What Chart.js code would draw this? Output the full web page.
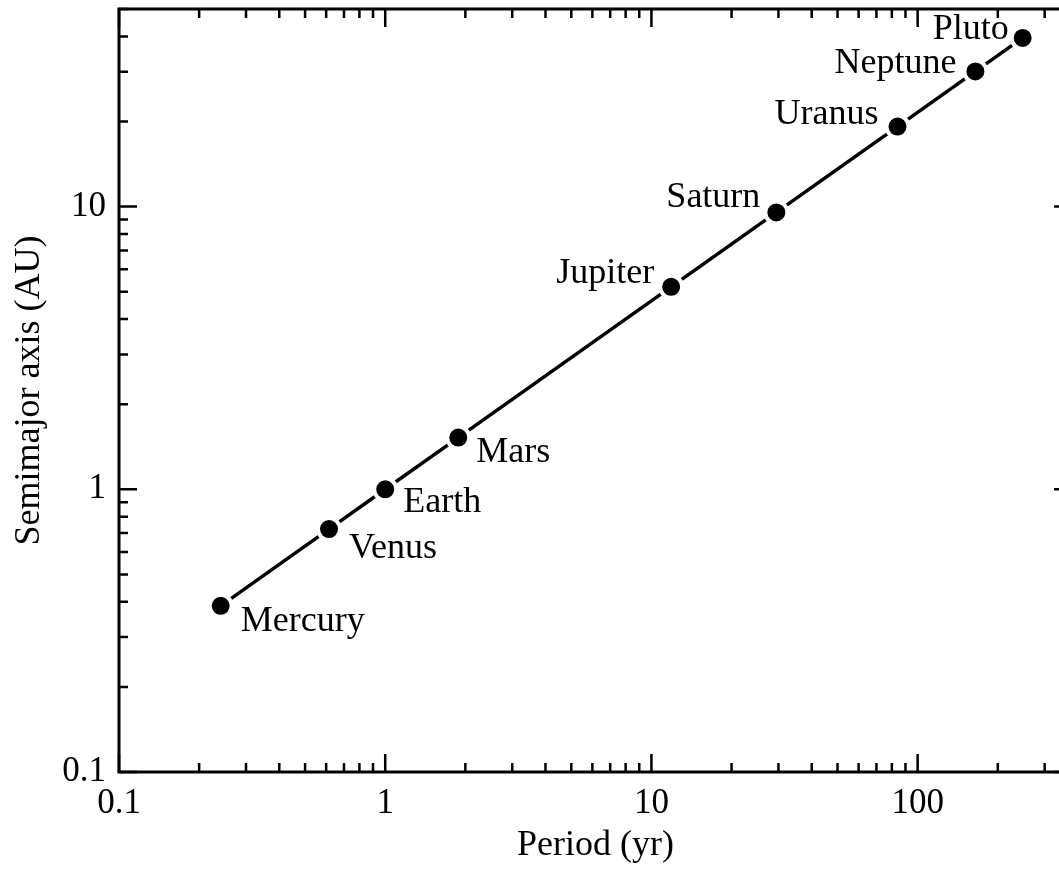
<!DOCTYPE html>
<html>
<head>
<meta charset="utf-8">
<script src="https://cdn.jsdelivr.net/npm/chart.js@4.4.1/dist/chart.umd.min.js"></script>
<style>
  html, body { margin: 0; padding: 0; background: #fff; overflow: hidden; }
  #wrap { width: 1080px; height: 875px; }
</style>
</head>
<body>
<div id="wrap"><canvas id="kepler"></canvas></div>
<script>
// planets, orbital period (yr) and semimajor axis (AU)
const planets = ["Mercury", "Venus", "Earth", "Mars", "Jupiter", "Saturn", "Uranus", "Neptune", "Pluto"];
const period = [0.241, 0.615, 1.0, 1.881, 11.86, 29.46, 84.01, 164.8, 248];
const semimajor = [0.387, 0.723, 1.0, 1.524, 5.203, 9.537, 19.19, 30.07, 39.5];
const xRange = [0.1, 380];
const yRange = [0.1, 50];

// where each name sits next to its dot: [dx, dy, align]
const labelPlace = [
  [20, 25, "left"], [20, 29, "left"], [18, 23, "left"], [18, 24, "left"],
  [-17, -4, "right"], [-16, -5, "right"], [-19, -3, "right"], [-19, 2, "right"], [-14, 1, "right"]
];

const FONT = "Liberation Serif, Times New Roman, serif";

function isDecade(v) {
  const l = Math.log10(v);
  return Math.abs(l - Math.round(l)) < 1e-9;
}

function logTicks(scale) {
  const out = [];
  for (let d = 0.1; d <= scale.max; d *= 10) {
    for (let k = 1; k <= 9; k++) {
      const v = +(d * k).toPrecision(6);
      if (v >= scale.min - 1e-12 && v <= scale.max + 1e-9) out.push({value: v});
    }
  }
  scale.ticks = out;
}

function tickLabel(value, index, ticks) {
  const v = ticks[index].value;
  return isDecade(v) ? String(v) : "";
}

// frame with inward ticks on all four sides
const frameTicks = {
  id: "frameTicks",
  afterDraw(chart) {
    const {ctx, chartArea: a, scales: {x, y}} = chart;
    ctx.save();
    ctx.strokeStyle = "#000";
    ctx.lineWidth = 3;
    ctx.strokeRect(a.left, a.top, a.right - a.left, a.bottom - a.top);
    ctx.lineWidth = 2.5;
    ctx.beginPath();
    x.ticks.forEach(t => {
      const px = x.getPixelForValue(t.value);
      const len = isDecade(t.value) ? 18 : 9;
      ctx.moveTo(px, a.bottom); ctx.lineTo(px, a.bottom - len);
      ctx.moveTo(px, a.top); ctx.lineTo(px, a.top + len);
    });
    y.ticks.forEach(t => {
      const py = y.getPixelForValue(t.value);
      const len = isDecade(t.value) ? 18 : 9;
      ctx.moveTo(a.left, py); ctx.lineTo(a.left + len, py);
      ctx.moveTo(a.right, py); ctx.lineTo(a.right - len, py);
    });
    ctx.stroke();
    ctx.restore();
  }
};

const pointNames = {
  id: "pointNames",
  afterDatasetsDraw(chart) {
    const {ctx} = chart;
    const pts = chart.getDatasetMeta(0).data;
    ctx.save();
    ctx.fillStyle = "#000";
    ctx.font = "36px " + FONT;
    ctx.textBaseline = "alphabetic";
    pts.forEach((p, i) => {
      const [dx, dy, align] = labelPlace[i];
      ctx.textAlign = align;
      ctx.fillText(planets[i], p.x + dx, p.y + dy);
    });
    ctx.restore();
  }
};

new Chart("kepler", {
  type: "scatter",
  data: {
    datasets: [{
      data: period.map((p, i) => ({x: p, y: semimajor[i]})),
      showLine: true,
      tension: 0,
      borderColor: "#000",
      borderWidth: 3.5,
      pointRadius: 11,
      pointBorderWidth: 4,
      pointBorderColor: "#fff",
      pointBackgroundColor: "#000"
    }]
  },
  options: {
    responsive: true,
    maintainAspectRatio: false,
    animation: false,
    layout: {autoPadding: false, padding: {top: 9, right: 8, left: 0, bottom: 0}},
    plugins: {legend: {display: false}, tooltip: {enabled: false}},
    scales: {
      x: {
        type: "logarithmic",
        min: xRange[0], max: xRange[1],
        afterBuildTicks: logTicks,
        afterFit: s => { s.height = 103; s.paddingLeft = 0; s.paddingRight = 0; },
        grid: {display: false, drawTicks: false},
        border: {display: false},
        ticks: {
          autoSkip: false, maxRotation: 0, padding: 11,
          color: "#000", font: {family: FONT, size: 35},
          callback: tickLabel
        },
        title: {
          display: true, text: "Period (yr)", color: "#000",
          font: {family: FONT, size: 36}, padding: {top: 0, bottom: 8}
        }
      },
      y: {
        type: "logarithmic",
        min: yRange[0], max: yRange[1],
        afterBuildTicks: logTicks,
        afterFit: s => { s.width = 119; s.paddingTop = 0; s.paddingBottom = 0; },
        grid: {display: false, drawTicks: false},
        border: {display: false},
        ticks: {
          autoSkip: false, padding: 13,
          color: "#000", font: {family: FONT, size: 35},
          callback: tickLabel
        },
        title: {
          display: true, text: "Semimajor axis (AU)", color: "#000",
          font: {family: FONT, size: 36}, padding: {top: 8, bottom: 0}
        }
      }
    }
  },
  plugins: [frameTicks, pointNames]
});
</script>
</body>
</html>
